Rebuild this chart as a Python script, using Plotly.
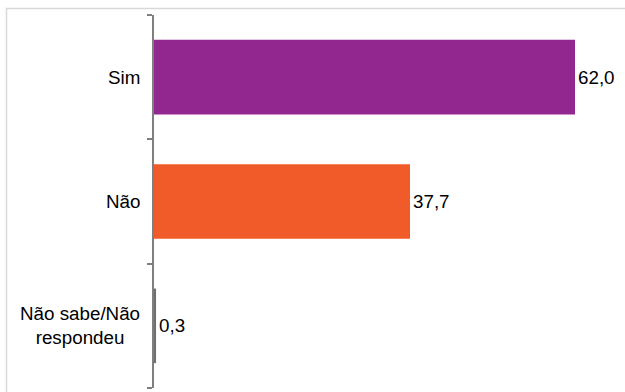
import plotly.graph_objects as go

categories = ["Sim", "Não", "Não sabe/Não<br>respondeu"]
values = [62.0, 37.7, 0.3]
colors = ["#92278F", "#F15A29", "#6F6F6F"]
positions = [2, 1, 0]
boundary_ticks = [-0.5, 0.5, 1.5, 2.5]

left, right, top, bottom = 154, 10, 15, 4
W, H = 625, 392
px_per_unit = 421 / 62.0
xmax = (W - left - right) / px_per_unit
FONT = "Liberation Sans, Arial"
FS = 18.8

fig = go.Figure()
fig.add_trace(go.Bar(
    x=values, y=positions, orientation="h",
    marker=dict(color=colors, line=dict(width=0)),
    width=0.6,
    texttemplate="%{x:.1f}", textposition="outside",
    textfont=dict(family=FONT, size=FS, color="#000000"),
    cliponaxis=False,
))

for cat, pos in zip(categories, positions):
    fig.add_annotation(
        x=0, xref="paper", y=pos, yref="y", text=cat, showarrow=False,
        xanchor="right", yanchor="middle", align="center", xshift=-12,
        font=dict(family=FONT, size=FS, color="#000000"),
    )

# outer light border (cropped frame)
fig.add_shape(type="rect", xref="paper", yref="paper",
              x0=-(left - 6.5) / (W - left - right), x1=1.2,
              y0=-0.2, y1=1 + (top - 8.5) / (H - top - bottom),
              line=dict(color="#D9D9D9", width=1.5), layer="below")

fig.update_layout(
    width=W, height=H,
    margin=dict(l=left, r=right, t=top, b=bottom, pad=0),
    paper_bgcolor="white", plot_bgcolor="white",
    separators=",.",
    showlegend=False,
    xaxis=dict(range=[0, xmax], visible=False, fixedrange=True),
    yaxis=dict(range=[-0.5, 2.5], tickvals=boundary_ticks, ticktext=["", "", "", ""],
               ticks="outside", ticklen=5, tickcolor="#7F7F7F", tickwidth=1.5,
               showline=True, linecolor="#7F7F7F", linewidth=1.5,
               showgrid=False, zeroline=False),
)

fig.write_html("out.html")
